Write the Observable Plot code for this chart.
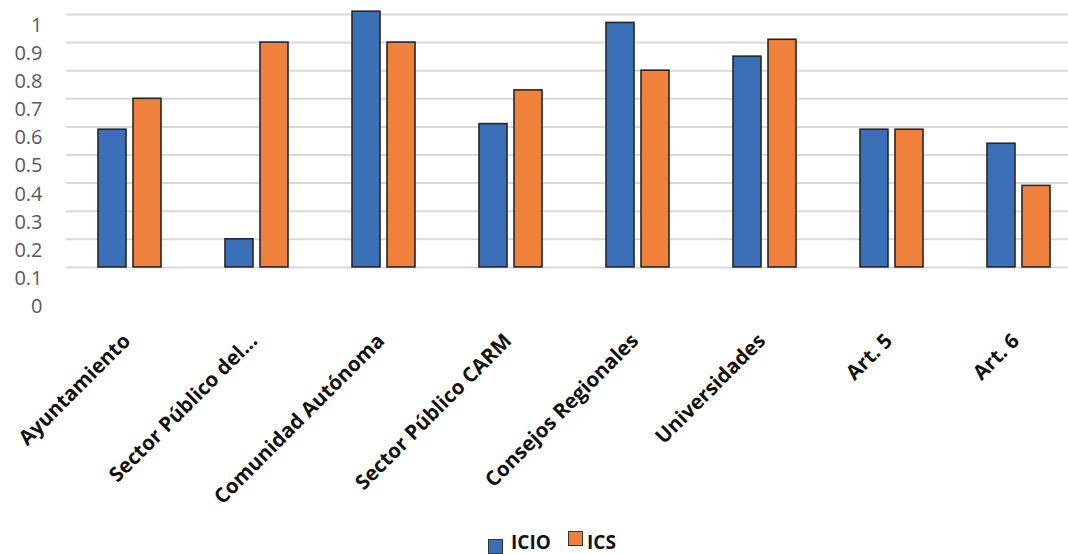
<!DOCTYPE html>
<html>
<head>
<meta charset="utf-8">
<script src="https://cdn.jsdelivr.net/npm/d3@7"></script>
<script src="https://cdn.jsdelivr.net/npm/@observablehq/plot@0.6"></script>
<style>
  body { margin: 0; background: #fff; font-family: "Open Sans", sans-serif; }
  #chart svg { display: block; }
  .legend { position: relative; height: 29px; width: 1068px; }
  .sw { position: absolute; width: 13px; height: 13px; border: 1.5px solid #333; box-sizing: content-box; }
  .lt { position: absolute; font-weight: 700; font-size: 19px; color: #111; line-height: 1; }
</style>
</head>
<body>
<div id="chart"></div>
<div class="legend" id="legend"></div>
<script>
const categories = ["Ayuntamiento", "Sector Público del...", "Comunidad Autónoma", "Sector Público CARM", "Consejos Regionales", "Universidades", "Art. 5", "Art. 6"];
const seriesNames = ["ICIO", "ICS"];
const icio = [0.59, 0.20, 1.01, 0.61, 0.97, 0.85, 0.59, 0.54];
const ics  = [0.70, 0.90, 0.90, 0.73, 0.80, 0.91, 0.59, 0.39];
const colors = ["#3b70b8", "#f0813c"];
const yTickValues = [0, 0.1, 0.2, 0.3, 0.4, 0.5, 0.6, 0.7, 0.8, 0.9, 1];
const yTickLabels = ["0", "0.1", "0.2", "0.3", "0.4", "0.5", "0.6", "0.7", "0.8", "0.9", "1"];
const gridValues = yTickValues.slice(1);
const barBase = 0.1;

const data = categories.flatMap((c, i) => [
  {cat: c, s: seriesNames[0], v: icio[i]},
  {cat: c, s: seriesNames[1], v: ics[i]}
]);

const H = 525;
const chart = Plot.plot({
  width: 1068,
  height: H,
  marginLeft: 66,
  marginRight: 2,
  marginTop: 14,
  marginBottom: H - 295,
  style: {fontFamily: "'Open Sans', sans-serif", background: "#fff", overflow: "hidden"},
  y: {domain: [0, 1], axis: null},
  fx: {domain: categories, padding: 0, label: null, axis: null, range: [66, 1082]},
  x: {domain: seriesNames, axis: null, paddingInner: 0.194, paddingOuter: 0.861},
  color: {domain: seriesNames, range: colors},
  marks: [
    Plot.ruleY(gridValues, {stroke: "#d9d9d9", strokeWidth: 2}),
    Plot.axisY(yTickValues, {
      tickSize: 0, tickPadding: 24, dy: 11, fontSize: 20, fill: "#595959",
      tickFormat: (d) => yTickLabels[yTickValues.indexOf(d)], label: null
    }),
    Plot.barY(data, {fx: "cat", x: "s", y1: barBase, y2: "v", fill: "s", stroke: "#262626", strokeWidth: 1.6}),
    Plot.axisFx({
      anchor: "bottom", domain: categories, tickSize: 0, tickPadding: 42, dx: -3, tickRotate: -45,
      fontSize: 20.5, fontWeight: 700, fill: "#111", label: null
    })
  ]
});
document.getElementById("chart").appendChild(chart);

const legend = document.getElementById("legend");
const legendItems = [
  {name: seriesNames[0], color: colors[0], sx: 488, sy: 14, tx: 511, ty: 8},
  {name: seriesNames[1], color: colors[1], sx: 568, sy: 6, tx: 587, ty: 8}
];
for (const it of legendItems) {
  const sw = document.createElement("div");
  sw.className = "sw";
  sw.style.background = it.color;
  sw.style.left = it.sx + "px";
  sw.style.top = it.sy + "px";
  legend.appendChild(sw);
  const t = document.createElement("div");
  t.className = "lt";
  t.textContent = it.name;
  t.style.left = it.tx + "px";
  t.style.top = it.ty + "px";
  legend.appendChild(t);
}
</script>
</body>
</html>
